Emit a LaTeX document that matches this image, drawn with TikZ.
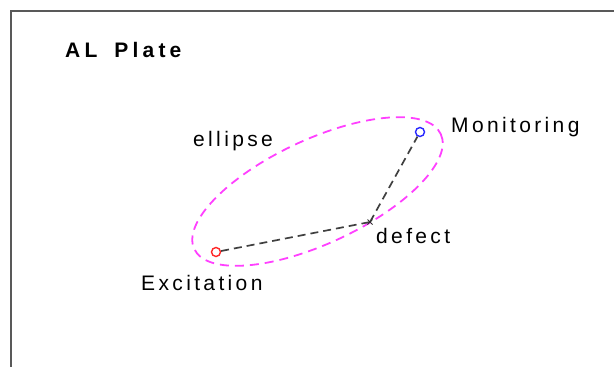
\documentclass[tikz,border=0pt]{standalone}
\usepackage{fontspec}
\setmainfont{Liberation Sans}
\newfontfamily\platefont[LetterSpace=20]{Liberation Sans}
\newfontfamily\labelfont[LetterSpace=16]{Liberation Sans}
\definecolor{ellmag}{RGB}{255,64,255}
\definecolor{exred}{RGB}{255,40,40}
\definecolor{monblue}{RGB}{40,40,255}
\begin{document}
\begin{tikzpicture}[x=1pt,y=-1pt,
  lbl/.style={inner sep=0pt, anchor=base west, font=\labelfont\fontsize{21}{24}\selectfont},
  sensor/.style={circle, draw, line width=1.4pt, minimum size=9pt, inner sep=0pt},
  route/.style={black!75, line width=1.7pt, dash pattern=on 8pt off 5pt}]
  \useasboundingbox (0,0) rectangle (614,367);
  \draw [black!65, line width=2pt]    (614,10.5) -- (11,10.5) -- (11,367);
  \node [lbl, font=\platefont\bfseries\fontsize{21}{24}\selectfont] (title) at (65,57) {AL\hspace{7pt} Plate};
  \draw [ellmag, line width=1.8pt, dash pattern=on 9pt off 6pt, rotate around={25:(317.5,191.5)}]
        (317.5,191.5) ellipse (136 and 52);
  \node [sensor, exred]   (exc) at (216,252) {};
  \node [sensor, monblue] (mon) at (420,132) {};
  \coordinate (def) at (370,222);
  \draw [route] (exc) -- (def);
  \draw [route] (def) -- (mon);
  \draw [black!80, line width=1pt] (def) +(-2.5,-2.5) -- +(2.5,2.5)
        (def) +(-2.5,2.5) -- +(2.5,-2.5);
  \node [lbl] (elltext) at (193,146) {ellipse};
  \node [lbl] (montext) at (451,132) {Monitoring};
  \node [lbl] (deftext) at (376,243) {defect};
  \node [lbl] (exctext) at (141,290) {Excitation};
\end{tikzpicture}
\end{document}
